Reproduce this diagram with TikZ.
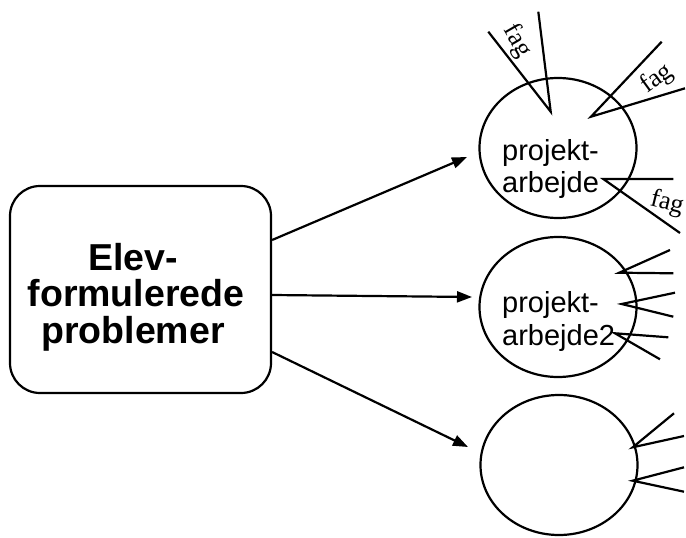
\documentclass[tikz,border=0pt]{standalone}
\usepackage{fontspec}
\setmainfont{Liberation Sans}
\newfontfamily\serifface{Liberation Serif}
\usetikzlibrary{arrows.meta,shapes.geometric}
\begin{document}
\begin{tikzpicture}[x=1pt,y=-1pt,
  ln/.style={line width=2.2pt},
  arr/.style={line width=2.2pt,-{Triangle[length=15pt,width=11pt]}},
  bub/.style={draw,line width=2.2pt,ellipse,minimum width=157pt,minimum height=140pt,inner sep=0pt},
  boxtxt/.style={font=\fontsize{37.5}{37.5}\selectfont\bfseries,anchor=base,inner sep=0pt},
  bubtxt/.style={font=\fontsize{29}{29}\selectfont,anchor=base west,inner sep=0pt},
  fagtxt/.style={font=\serifface\fontsize{26}{26}\selectfont,inner sep=0pt}]
\useasboundingbox (0,0) rectangle (686,538);
% main box
\node[draw,line width=2.2pt,rounded corners=30pt,minimum width=261pt,minimum height=207pt] (box) at (140.5,289.5) {};
\node[boxtxt] (b1) at (133,270) {Elev-};
\node[boxtxt] (b2) at (136,306.5) {formulerede};
\node[boxtxt] (b3) at (133,343) {problemer};
% bubbles
\node[bub] (e1) at (558,148) {};
\node[bub] (e2) at (558,307) {};
\node[bub] (e3) at (559,465) {};
\node[bubtxt] (t1a) at (502,160) {projekt-};
\node[bubtxt] (t1b) at (502,192) {arbejde};
\node[bubtxt] (t2a) at (502,312) {projekt-};
\node[bubtxt] (t2b) at (502,345) {arbejde2};
% arrows
\coordinate (h1) at (467,157);
\coordinate (h2) at (472,297);
\coordinate (h3) at (468,447);
\draw[arr] ([yshift=49.5pt]box.east) -- (h1);
\draw[arr] ([yshift=-5.5pt]box.east) -- (h2);
\draw[arr] ([yshift=-62.5pt]box.east) -- (h3);
% fag lines, bubble 1
\coordinate (v1) at (550.7,111.7);
\coordinate (a1) at (488.3,31.7);
\coordinate (a2) at (538.3,11.7);
\draw[ln] (a1) -- (v1) -- (a2);
\node[fagtxt,rotate=-60] (f1) at (517,41) {fag};
\coordinate (v2) at (591,116.7);
\coordinate (a3) at (661.7,41.7);
\coordinate (a4) at (685,88.3);
\draw[ln] (a3) -- (v2) -- (a4);
\node[fagtxt,rotate=36] (f2) at (656.7,79) {fag};
\coordinate (v3) at (603.3,179);
\coordinate (a5) at (673.3,179);
\coordinate (a6) at (680,233);
\draw[ln] (a5) -- (v3) -- (a6);
\node[fagtxt,rotate=-14] (f3) at (667,203) {fag};
% bubble 2 lines
\coordinate (w1) at (619.3,272.7);
\coordinate (w2) at (621.7,304);
\coordinate (w3) at (615,333.3);
\coordinate (c1) at (670,250);
\coordinate (c2) at (673.3,273.3);
\coordinate (c3) at (675,292.7);
\coordinate (c4) at (673.3,316.7);
\coordinate (c5) at (668.3,337.3);
\coordinate (c6) at (660,359.3);
\draw[ln] (c1) -- (w1) -- (c2);
\draw[ln] (c3) -- (w2) -- (c4);
\draw[ln] (c5) -- (w3) -- (c6);
% bubble 3 lines
\coordinate (u1) at (632.7,447.3);
\coordinate (u2) at (632.7,480.7);
\coordinate (d1) at (674,413.3);
\coordinate (d2) at (684,436);
\coordinate (d3) at (684,467.3);
\coordinate (d4) at (684,491.7);
\draw[ln] (d1) -- (u1) -- (d2);
\draw[ln] (d3) -- (u2) -- (d4);
\end{tikzpicture}
\end{document}
